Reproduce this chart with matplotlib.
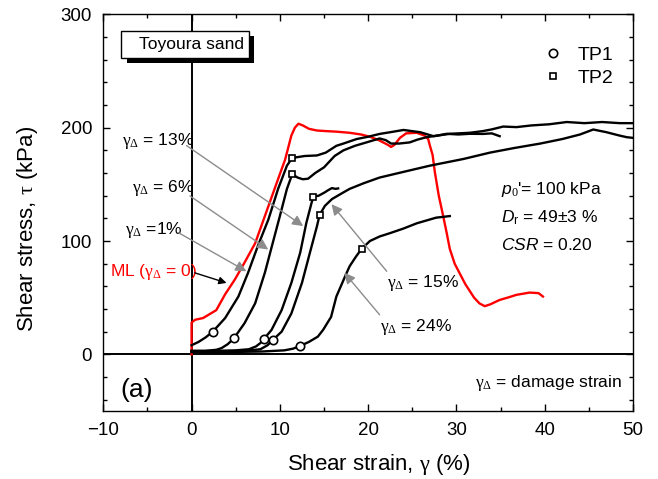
import matplotlib
matplotlib.use("Agg")
import matplotlib.pyplot as plt
import matplotlib.patheffects as pe
from matplotlib.patches import Rectangle
from matplotlib.lines import Line2D

plt.rcParams['font.family'] = ['Liberation Sans', 'DejaVu Sans']
plt.rcParams['mathtext.fontset'] = 'custom'
plt.rcParams['mathtext.rm'] = 'Liberation Serif'
plt.rcParams['mathtext.it'] = 'Liberation Sans:italic'
plt.rcParams['mathtext.sf'] = 'Liberation Sans'
plt.rcParams['mathtext.bf'] = 'Liberation Sans:bold'

# ---------------- data ----------------
# Monotonic loading (ML, damage strain = 0)
x_ml = [0, 0, 0.4, 1.3, 2.8, 3.8, 4.9, 6.0, 7.2, 8.3, 9.4, 10.6, 11.3, 11.7, 12.1, 12.6,
        13.3, 14.2, 15.2, 16.4, 17.9, 19.2, 20.2, 21.2, 21.7, 22.2, 22.6, 23.0, 23.6, 24.3,
        25.5, 26.4, 26.8, 27.0, 27.3, 27.55, 28.0, 28.5, 28.9, 29.25, 29.8, 30.4, 31.0,
        31.5, 32.0, 32.6, 33.2, 33.8, 34.9, 36.0, 36.8, 38.3, 39.3, 39.8]
y_ml = [0, 28, 30.5, 32, 39, 53, 66, 81, 98, 122, 146, 172, 193, 200, 203.5, 202,
        199, 197.5, 197, 196.5, 195.5, 194, 192, 189, 187, 185, 183, 185, 191, 195,
        195.5, 193, 190, 184, 176, 161, 140, 122, 107, 93, 80, 71, 62,
        56, 50, 45, 42.5, 44, 48, 50.5, 52.5, 54.5, 54, 51]

# damage strain 1 %
x_d1 = [0, 0.8, 1.6, 2.4, 3.8, 5.3, 6.4, 7.5, 8.7, 9.8, 10.8, 11.4, 12.8, 14.2, 15.2,
        16.4, 17.2, 18.7, 20.0, 21.3, 22.5, 24.0, 25.9, 27.4, 29.25, 31.5, 33.0, 34.0,
        35.3, 36.8, 38.5, 40.5, 42.5, 44.5, 46.5, 48.5, 50]
y_d1 = [8, 11, 15, 20, 32, 51, 72, 95.5, 119, 146, 166.5, 173.3, 175, 175.5, 178,
        184, 186, 190, 192, 194.5, 196, 198, 196, 192.5, 194.6, 195.5, 197, 198.5,
        201, 200.5, 202, 203, 205, 204, 205, 204, 204]

# damage strain 6 %
x_d6 = [0, 1.5, 2.8, 3.4, 4.1, 4.8, 6.0, 7.2, 8.3, 9.2, 10.0, 10.8, 11.4, 12.0, 12.6,
        13.2, 14.0, 15.0, 16.2, 17.2, 18.5, 19.8, 21.3, 22.0, 22.6, 23.5, 24.7, 25.6,
        26.6, 27.8, 28.9, 30.2, 31.5, 33.0, 34.0, 34.9]
y_d6 = [3, 3, 4, 5.5, 9, 14.2, 27.5, 45, 72, 98.5, 122, 146, 159, 156, 154.5,
        155, 160, 165, 175, 180, 184, 187, 190.5, 189, 186, 186, 187, 189.5,
        191.6, 193, 194.6, 194, 194.6, 194.5, 195, 192.5]

# damage strain 13 %
x_d13 = [0, 2.5, 5.0, 6.5, 7.3, 7.8, 8.2, 9.06, 10.2, 11.3, 12.3, 13.0, 13.6, 13.8,
         14.4, 15.1, 15.5, 15.9, 16.3, 16.6]
y_d13 = [3, 3, 3.5, 4.5, 7, 10, 13.6, 21.6, 39, 63, 89.6, 116, 134, 139,
         140, 143, 145, 146.7, 146, 146.4]

# damage strain 15 %
x_d15 = [0, 3, 6, 7.8, 8.6, 9.2, 10.2, 11.3, 12.5, 13.4, 14.2, 14.5, 15.1, 15.9, 17.0,
         17.9, 19.5, 21.3, 24.0, 27.0, 30.8, 33.8, 36.5, 39.5, 42.0, 44.0, 45.5, 47.0,
         48.5, 49.3, 50]
y_d15 = [2.5, 2.5, 3, 4.5, 8, 12.7, 20, 36, 63, 89.6, 113, 123, 131, 137, 142,
         146, 151, 156, 161, 166.5, 172.4, 178, 182, 186, 190, 194, 198.4, 196,
         193, 191.6, 191]

# damage strain 24 %
x_d24 = [0, 4, 8, 10.5, 11.5, 12.3, 13.3, 14.3, 14.9, 15.8, 16.4, 17.4, 17.9, 18.6,
         19.25, 20.2, 21.3, 22.5, 24.0, 25.5, 27.7, 29.25]
y_d24 = [2, 2, 2.5, 3.5, 5, 7.4, 11, 15.6, 21.6, 33, 51, 69, 77.7, 86,
         93, 100, 104, 107, 111, 115.6, 120.6, 122]

# transformation points
tp1_x = [2.4, 4.8, 8.2, 9.2, 12.3]
tp1_y = [20, 14.2, 13.6, 12.7, 7.4]
tp2_x = [11.4, 11.4, 13.8, 14.5, 19.25]
tp2_y = [173.3, 159, 139, 123, 93]

x_ticks = [-10, 0, 10, 20, 30, 40, 50]
y_ticks = [0, 100, 200, 300]

# ---------------- figure ----------------
fig = plt.figure(figsize=(6.58, 4.79), dpi=100)
ax = fig.add_axes([0.157, 0.142, 0.805, 0.828])

ax.set_xlim(-10, 50)
ax.set_ylim(-50, 300)
ax.set_xticks(x_ticks)
ax.set_yticks(y_ticks)
ax.set_xticks(range(-10, 51, 5), minor=True)
ax.set_yticks(range(-40, 301, 20), minor=True)
ax.tick_params(which='both', direction='in', top=True, right=True, width=1)
ax.tick_params(which='major', length=5, labelsize=13.5, pad=8)
ax.tick_params(which='minor', length=3)
for s in ax.spines.values():
    s.set_linewidth(1.0)

ax.axhline(0, color='black', lw=1.4, zorder=1)
ax.axvline(0, color='black', lw=1.4, zorder=1)

lw = 1.7
ax.plot(x_ml, y_ml, color='#ff0000', lw=lw, zorder=3)
for xs, ys in [(x_d1, y_d1), (x_d6, y_d6), (x_d13, y_d13), (x_d15, y_d15), (x_d24, y_d24)]:
    ax.plot(xs, ys, color='black', lw=lw, zorder=3)

ax.plot(tp1_x, tp1_y, ls='none', marker='o', ms=6, mfc='white', mec='black', mew=1.2, zorder=4)
ax.plot(tp2_x, tp2_y, ls='none', marker='s', ms=5, mfc='white', mec='black', mew=1.2, zorder=4)

ax.set_xlabel(r'Shear strain, $\mathrm{\gamma}$ (%)', fontsize=16, labelpad=9, x=0.52)
ax.set_ylabel(r'Shear stress, $\mathrm{\tau}$ (kPa)', fontsize=16, labelpad=15, y=0.46)

# legend
handles = [Line2D([], [], ls='none', marker='o', ms=6, mfc='white', mec='black', mew=1.2),
           Line2D([], [], ls='none', marker='s', ms=5, mfc='white', mec='black', mew=1.2)]
ax.legend(handles, ['TP1', 'TP2'], loc='upper right', bbox_to_anchor=(0.978, 0.94),
          frameon=False, fontsize=14, handlelength=1.0, handletextpad=0.8,
          labelspacing=0.3, borderaxespad=0)

# Toyoura sand box with shadow
box = Rectangle((-7.95, 261.8), 14.44, 23.9, fc='white', ec='black', lw=1.0, zorder=6)
box.set_path_effects([pe.SimplePatchShadow(offset=(4, -4), shadow_rgbFace='black', alpha=1.0),
                      pe.Normal()])
ax.add_patch(box)
ax.text(-5.97, 273.5, 'Toyoura sand', fontsize=12.5, ha='left', va='center', zorder=7)

# annotations
g = r'$\mathrm{\gamma}_{\mathrm{\Delta}}$'
gray = '#8c8c8c'
arrow_gray = dict(arrowstyle='-|>', color=gray, lw=1.0, mutation_scale=16,
                  shrinkA=0, shrinkB=0)
def garrow(x0, y0, x1, y1, props):
    ax.annotate('', xy=(x1, y1), xytext=(x0, y0), arrowprops=props, zorder=5)

fs = 12.5
ax.text(-7.93, 188.0, g + ' = 13%', fontsize=fs, ha='left', va='center')
garrow(-0.57, 184.2, 12.64, 113.2, arrow_gray)
ax.text(-6.8, 147.0, g + ' = 6%', fontsize=fs, ha='left', va='center')
garrow(-0.19, 139.8, 8.68, 92.5, arrow_gray)
ax.text(-7.55, 110.0, g + ' =1%', fontsize=fs, ha='left', va='center')
garrow(-1.5, 107.4, 6.2, 73.3, arrow_gray)
ax.text(-9.25, 73.0, 'ML (' + g + ' = 0)', fontsize=12.5, color='#ff0000',
        ha='left', va='center')
garrow(0.37, 71.9, 3.96, 63.0, dict(arrowstyle='-|>', color='black', lw=1.0,
                                     mutation_scale=11, shrinkA=0, shrinkB=0))
ax.text(22.1, 63.0, g + ' = 15%', fontsize=fs, ha='left', va='center')
garrow(22.1, 73.3, 15.85, 132.5, arrow_gray)
ax.text(21.3, 24.5, g + ' = 24%', fontsize=fs, ha='left', va='center')
garrow(21.3, 34.9, 17.3, 72.0, arrow_gray)

ax.text(35.1, 145.8, r"$p_{\mathit{0}}$'= 100 kPa", fontsize=12.5, ha='left', va='center')
ax.text(35.1, 121.0, r"$D_{\mathsf{r}}$ = 49±3 %", fontsize=12.5,
        ha='left', va='center')
ax.text(35.1, 96.1, r"$CSR$ = 0.20", fontsize=12.5, ha='left', va='center')

ax.text(48.7, -25.7, g + ' = damage strain', fontsize=12.5, ha='right', va='center')
ax.text(-8.1, -31.7, '(a)', fontsize=19, ha='left', va='center')

fig.savefig('out.png', dpi=100)
